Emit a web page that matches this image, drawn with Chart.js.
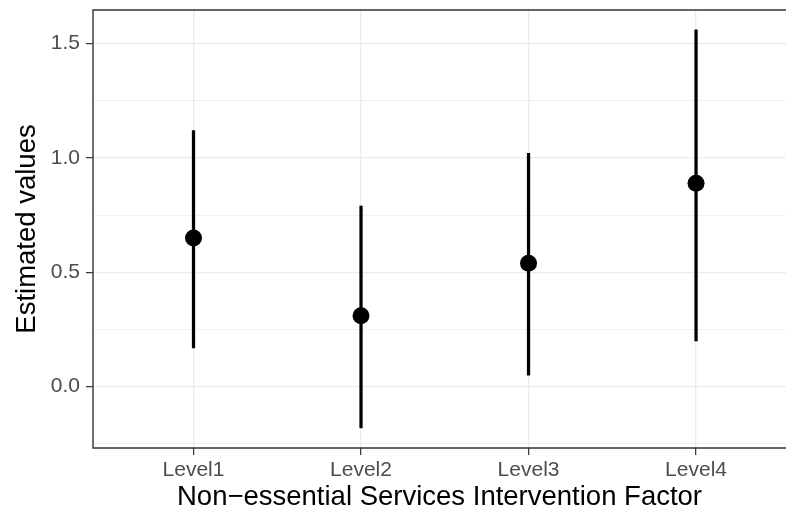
<!DOCTYPE html>
<html>
<head>
<meta charset="utf-8">
<script src="https://cdn.jsdelivr.net/npm/chart.js@4"></script>
<style>
  html, body { margin: 0; padding: 0; background: #fff; overflow: hidden; }
  #estChart { width: 786px; height: 515px; display: block; }
</style>
</head>
<body>
<canvas id="estChart" width="786" height="515"></canvas>
<script>
// values
const categories = ['Level1', 'Level2', 'Level3', 'Level4'];
const estimates = [0.65, 0.31, 0.54, 0.89];
const lower = [0.17, -0.18, 0.05, 0.20];
const upper = [1.12, 0.79, 1.02, 1.56];
const yMajor = [0, 0.5, 1.0, 1.5];
const yMinor = [-0.25, 0.25, 0.75, 1.25];

const FONT = "'Liberation Sans', Arial, Helvetica, sans-serif";
const isMajorY = v => yMajor.some(m => Math.abs(m - v) < 1e-9);

// panel border like theme_bw; the right edge falls outside the picture
const panelBorder = {
  id: 'panelBorder',
  afterDraw(chart) {
    const {ctx, chartArea: a} = chart;
    ctx.save();
    ctx.strokeStyle = '#333333';
    ctx.lineWidth = 1.4;
    ctx.beginPath();
    ctx.moveTo(a.right + 2, a.top);
    ctx.lineTo(a.left, a.top);
    ctx.lineTo(a.left, a.bottom);
    ctx.lineTo(a.right + 2, a.bottom);
    ctx.stroke();
    ctx.restore();
  }
};

new Chart(document.getElementById('estChart'), {
  type: 'bar',
  data: {
    datasets: [
      {
        type: 'scatter',
        data: categories.map((c, i) => ({x: i + 1, y: estimates[i]})),
        pointRadius: 8.5,
        pointBackgroundColor: '#000',
        pointBorderWidth: 0,
        order: 0
      },
      {
        type: 'bar',
        data: categories.map((c, i) => ({x: i + 1, y: [lower[i], upper[i]]})),
        backgroundColor: '#000',
        borderWidth: 0,
        barThickness: 2.6,
        grouped: false,
        order: 1
      }
    ]
  },
  options: {
    responsive: false,
    animation: false,
    layout: { autoPadding: false, padding: { top: 10, right: 0, bottom: 0, left: 0 } },
    plugins: { legend: { display: false }, tooltip: { enabled: false } },
    scales: {
      x: {
        type: 'linear',
        min: 0.4,
        max: 4.537,
        offset: false,
        afterBuildTicks: s => { s.ticks = categories.map((c, i) => ({value: i + 1})); },
        afterFit: s => { s.height = 67; s.paddingLeft = 0; s.paddingRight = 0; },
        border: { display: false },
        grid: {
          offset: false,
          color: '#EBEBEB',
          lineWidth: 1.3,
          tickColor: '#333333',
          tickLength: 7,
          tickWidth: 1.2
        },
        ticks: {
          callback: v => categories[Math.round(v) - 1] || '',
          color: '#4D4D4D',
          font: { family: FONT, size: 21 },
          padding: 3,
          maxRotation: 0,
          autoSkip: false
        },
        title: {
          display: true,
          text: 'Non\u2212essential Services Intervention Factor',
          color: '#000',
          font: { family: FONT, size: 27.5, lineHeight: 1 },
          padding: { top: 0, bottom: 3.6 }
        }
      },
      y: {
        type: 'linear',
        min: -0.268,
        max: 1.647,
        afterBuildTicks: s => {
          s.ticks = yMajor.concat(yMinor).sort((a, b) => a - b).map(v => ({value: v}));
        },
        afterFit: s => { s.width = 93; s.paddingTop = 0; s.paddingBottom = 0; },
        border: { display: false },
        grid: {
          color: '#EBEBEB',
          lineWidth: c => isMajorY(c.tick.value) ? 1.3 : 0.7,
          tickColor: c => isMajorY(c.tick.value) ? '#333333' : 'rgba(0,0,0,0)',
          tickLength: 7,
          tickWidth: 1.2
        },
        ticks: {
          callback: v => isMajorY(v) ? v.toFixed(1) : '',
          color: '#4D4D4D',
          font: { family: FONT, size: 21 },
          padding: 6,
          autoSkip: false
        },
        title: {
          display: true,
          text: 'Estimated values',
          color: '#000',
          font: { family: FONT, size: 27.5, lineHeight: 1 },
          padding: { top: 14, bottom: 0 }
        }
      }
    }
  },
  plugins: [panelBorder]
});
</script>
</body>
</html>
